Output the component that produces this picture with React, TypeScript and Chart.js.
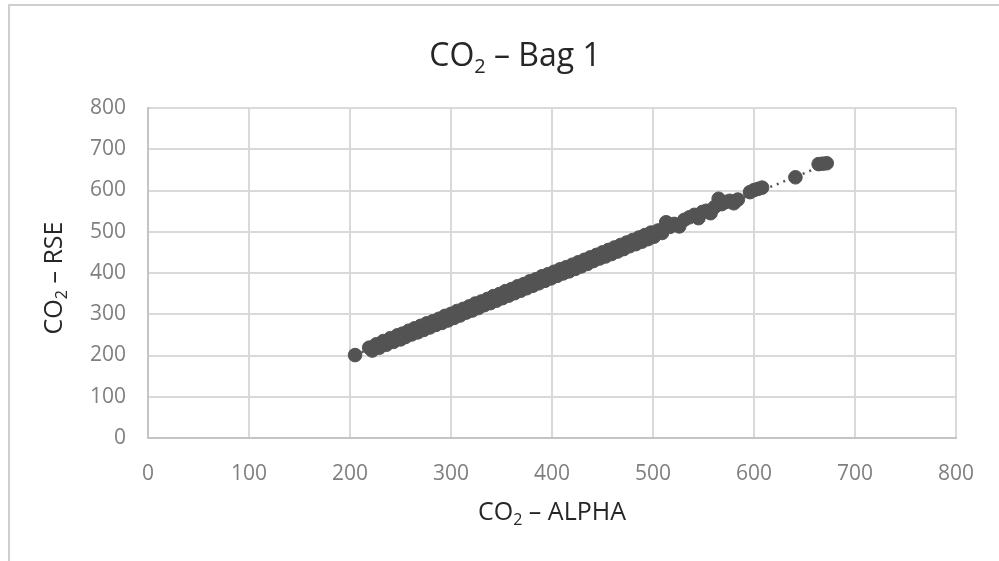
import React, { useEffect, useRef } from 'react';
import { Chart, registerables } from 'chart.js';

Chart.register(...registerables);

// ---- data ----
const alphaValues: number[] = [
  205, 219, 222, 226, 229, 233, 236, 240, 243, 247, 250, 252, 255, 258, 261, 264, 267, 270, 273, 276,
  279, 282, 285, 288, 291, 294, 297, 300, 303, 306, 309, 312, 315, 318, 321, 324, 327, 330, 333, 336,
  339, 342, 345, 348, 351, 354, 357, 360, 363, 366, 369, 372, 375, 378, 381, 384, 387, 390, 393, 396,
  399, 402, 405, 408, 411, 414, 417, 420, 423, 426, 429, 432, 435, 438, 441, 444, 447, 450, 453, 456,
  459, 462, 465, 468, 471, 474, 477, 480, 483, 486, 489, 492, 495, 498, 501, 505, 509, 513, 517, 521,
  526, 531, 536, 541, 545, 549, 553, 557, 561, 565, 568, 572, 576, 580, 584, 596, 600, 604, 608, 641,
  664, 668, 672,
];
const rseValues: number[] = [
  201, 219, 212, 227, 219, 235, 226, 242, 233, 249, 239, 253, 245, 260, 251, 266, 256, 272, 262, 278,
  268, 283, 274, 289, 279, 296, 285, 301, 291, 308, 297, 313, 304, 319, 309, 326, 315, 331, 322, 337,
  327, 344, 333, 349, 339, 356, 345, 361, 351, 368, 357, 373, 363, 380, 369, 385, 375, 392, 381, 397,
  387, 403, 393, 409, 399, 414, 404, 420, 410, 426, 416, 432, 422, 438, 429, 444, 435, 450, 440, 456,
  446, 462, 452, 468, 458, 474, 465, 480, 470, 486, 476, 492, 482, 498, 488, 503, 497, 523, 512, 519,
  513, 529, 535, 541, 533, 548, 551, 545, 560, 580, 567, 572, 575, 569, 578, 596, 601, 604, 607, 632,
  664, 665, 666,
];
// linear trendline end points
const trendAlpha: number[] = [205, 672];
const trendRse: number[] = [201, 664];

const axisMin = 0;
const axisMax = 800;
const axisStep = 100;

// titles: [main text, subscript, rest]
const chartTitle: [string, string, string] = ['CO', '2', ' – Bag 1'];
const xAxisTitle: [string, string, string] = ['CO', '2', ' – ALPHA'];
const yAxisTitle: [string, string, string] = ['CO', '2', ' – RSE'];

const FONT = "'Open Sans', 'Noto Sans', sans-serif";

function drawSubLabel(
  ctx: CanvasRenderingContext2D,
  parts: [string, string, string],
  size: number,
  cx: number,
  cy: number,
  rotation: number,
) {
  const big = `${size}px ${FONT}`;
  const small = `${Math.round(size * 0.64)}px ${FONT}`;
  ctx.save();
  ctx.translate(cx, cy);
  ctx.rotate(rotation);
  ctx.fillStyle = '#262626';
  ctx.textBaseline = 'alphabetic';
  ctx.textAlign = 'left';
  ctx.font = big;
  const w1 = ctx.measureText(parts[0]).width;
  const w3 = ctx.measureText(parts[2]).width;
  ctx.font = small;
  const w2 = ctx.measureText(parts[1]).width;
  const total = w1 + w2 + w3;
  const baseline = size * 0.714 / 2;
  let x = -total / 2;
  ctx.font = big;
  ctx.fillText(parts[0], x, baseline);
  x += w1;
  ctx.font = small;
  ctx.fillText(parts[1], x, baseline + size * 0.22);
  x += w2;
  ctx.font = big;
  ctx.fillText(parts[2], x, baseline);
  ctx.restore();
}

const decorations = {
  id: 'decorations',
  beforeDraw(chart: any) {
    const ctx = chart.ctx;
    ctx.save();
    ctx.strokeStyle = '#cfcfcf';
    ctx.lineWidth = 2;
    ctx.beginPath();
    ctx.moveTo(9, 561);
    ctx.lineTo(9, 5);
    ctx.lineTo(999, 5);
    ctx.stroke();
    ctx.restore();
  },
  afterDraw(chart: any) {
    const ctx = chart.ctx as CanvasRenderingContext2D;
    const area = chart.chartArea;
    drawSubLabel(ctx, chartTitle, 32, 515, 55, 0);
    drawSubLabel(ctx, xAxisTitle, 25, (area.left + area.right) / 2, 511, 0);
    drawSubLabel(ctx, yAxisTitle, 25, 53, (area.top + area.bottom) / 2 + 5, -Math.PI / 2);
  },
};

export default function App() {
  const ref = useRef<HTMLCanvasElement | null>(null);

  useEffect(() => {
    if (!ref.current) return;
    const points = alphaValues.map((x, i) => ({ x, y: rseValues[i] }));
    const trend = trendAlpha.map((x, i) => ({ x, y: trendRse[i] }));

    const chart = new Chart(ref.current, {
      type: 'scatter',
      data: {
        datasets: [
          {
            label: 'CO2',
            data: points,
            pointRadius: 6.8,
            pointHoverRadius: 6.8,
            backgroundColor: '#535353',
            borderColor: '#535353',
            borderWidth: 1,
            order: 2,
          },
          {
            label: 'Trend',
            data: trend,
            showLine: true,
            pointRadius: 0,
            borderColor: '#555555',
            borderWidth: 2.5,
            borderDash: [2, 5],
            fill: false,
            order: 1,
          } as any,
        ],
      },
      options: {
        animation: false,
        responsive: false,
        maintainAspectRatio: false,
        devicePixelRatio: 1,
        layout: { padding: { left: 0, right: 43, top: 108, bottom: 0 } },
        plugins: {
          legend: { display: false },
          tooltip: { enabled: false },
          title: { display: false },
        },
        scales: {
          x: {
            type: 'linear',
            min: axisMin,
            max: axisMax,
            afterFit: (s: any) => {
              s.height = 123;
            },
            ticks: {
              stepSize: axisStep,
              color: '#7f7f7f',
              font: { family: FONT, size: 21 },
              padding: 23,
            },
            grid: { color: '#d9d9d9', lineWidth: 2, drawTicks: false },
            border: { color: '#c4c4c4', width: 2 },
          },
          y: {
            type: 'linear',
            min: axisMin,
            max: axisMax,
            afterFit: (s: any) => {
              s.width = 148;
            },
            ticks: {
              stepSize: axisStep,
              color: '#7f7f7f',
              font: { family: FONT, size: 21 },
              padding: 22,
            },
            grid: { color: '#d9d9d9', lineWidth: 2, drawTicks: false },
            border: { color: '#c4c4c4', width: 2 },
          },
        },
      },
      plugins: [decorations],
    });
    return () => chart.destroy();
  }, []);

  return (
    <div style={{ position: 'absolute', left: 0, top: 0, width: 999, height: 561, background: '#fff' }}>
      <canvas ref={ref} width={999} height={561} />
    </div>
  );
}
